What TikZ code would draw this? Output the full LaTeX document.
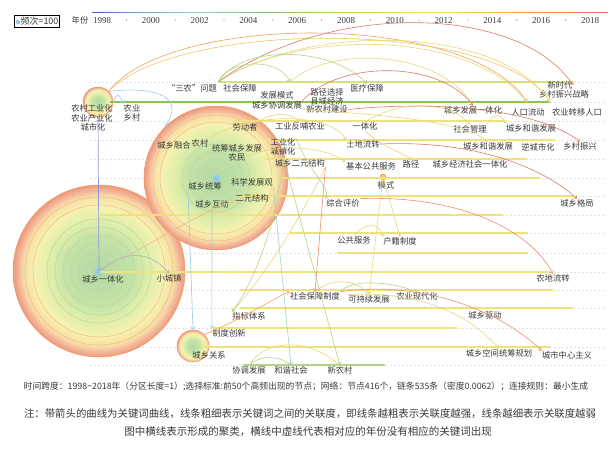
\documentclass[tikz,border=0pt]{standalone}
\usepackage{fontspec}
\setmainfont{Noto Sans CJK SC}
\newfontfamily\yearfont{Liberation Serif}
\usepackage{xcolor}
\usepackage{tikz}
\usetikzlibrary{arrows.meta,positioning}
\definecolor{inkgray}{HTML}{3A3A3A}
\definecolor{rowyellow}{HTML}{EFE27C}
\definecolor{rowolive}{HTML}{D6E07A}
\definecolor{rowgreen}{HTML}{8CC453}
\definecolor{dashgray}{HTML}{E2E2E2}
\definecolor{hubcore}{HTML}{8CCBEA}
\definecolor{hubgreen}{HTML}{B4DBA6}
\definecolor{hubmid}{HTML}{DCEDAA}
\definecolor{hubyellow}{HTML}{F6F2B0}
\definecolor{hubpale}{HTML}{F8DCA4}
\definecolor{hubcoral}{HTML}{EE9A74}
\definecolor{ringgreen}{HTML}{BCD698}
\definecolor{ringorange}{HTML}{F0B88A}
\definecolor{arcorange}{HTML}{EFA552}
\definecolor{arcamber}{HTML}{F2C46A}
\definecolor{arcred}{HTML}{DC7A66}
\definecolor{arccoral}{HTML}{E9916A}
\definecolor{arcyellow}{HTML}{EAD777}
\definecolor{arcgreen}{HTML}{B3D386}
\definecolor{arcblue}{HTML}{9CC8E2}
\definecolor{arcteal}{HTML}{A3D2C9}
\definecolor{arcslate}{HTML}{A7B4C4}
\definecolor{arcviolet}{HTML}{8E97DC}
\definecolor{arctan}{HTML}{E7C08E}
\definecolor{yr98}{HTML}{4A5FB8}
\definecolor{yr02}{HTML}{6FB2D8}
\definecolor{yr04}{HTML}{8FD0C8}
\definecolor{yr06}{HTML}{7FC46A}
\definecolor{yr10}{HTML}{B9D760}
\definecolor{yr12}{HTML}{EFE36A}
\definecolor{yr16}{HTML}{F2A65A}
\definecolor{yr18}{HTML}{E86A5A}
\pgfdeclareradialshading{hubring}{\pgfpointorigin}{color(0bp)=(hubcore); color(0.7bp)=(hubcore); color(1.6bp)=(hubgreen); color(10bp)=(hubgreen!60!hubmid); color(14bp)=(hubmid); color(19bp)=(hubyellow); color(22bp)=(hubpale); color(23.4bp)=(hubcoral!70!white); color(25bp)=(hubcoral); color(50bp)=(hubcoral)}
\pgfdeclarehorizontalshading{yearbar}{4bp}{color(0bp)=(yr98); color(25bp)=(yr98); color(30bp)=(yr02); color(35bp)=(yr04); color(42bp)=(yr06); color(50bp)=(yr10); color(58bp)=(yr12); color(66bp)=(yr16); color(75bp)=(yr18); color(100bp)=(yr18)}
\newcommand\kwfont{\fontsize{8.3}{9}\selectfont}
\tikzset{
  kw/.style={font=\kwfont, text=inkgray, inner sep=0.3pt},
  hub/.style={circle, shade, shading=hubring, draw=hubcoral, line width=0.5pt, inner sep=0pt},
  patterndot/.style={circle, fill=arcamber, draw=arcorange, line width=0.6pt, minimum size=6pt, inner sep=0pt},
  legendbox/.style={draw=black, line width=0.9pt, inner sep=1.4pt, font=\fontsize{9}{10}\selectfont, text=inkgray},
  yearlab/.style={font=\yearfont\fontsize{9}{10}\selectfont, text=inkgray, inner sep=0pt},
  yeardot/.style={circle, fill=inkgray!60, minimum size=1.4pt, inner sep=0pt},
  rowline/.style={draw=rowyellow, line width=1.3pt},
  rowdash/.style={draw=dashgray, dash pattern=on 2pt off 2pt, line width=0.5pt},
  tipped/.style={-{Straight Barb[length=2.6pt,width=4.2pt]}, line width=0.6pt},
  orangelink/.style={tipped, draw=arcorange},
  amberlink/.style={tipped, draw=arcamber},
  redlink/.style={tipped, draw=arcred},
  corallink/.style={tipped, draw=arccoral},
  yellowlink/.style={tipped, draw=arcyellow},
  greenlink/.style={tipped, draw=arcgreen},
  bluelink/.style={tipped, draw=arcblue},
  teallink/.style={tipped, draw=arcteal},
  slatelink/.style={tipped, draw=arcslate},
  violetline/.style={draw=arcviolet, line width=0.7pt},
  tanline/.style={draw=arctan, line width=0.7pt},
  footnote/.style={text=inkgray, inner sep=0pt}
}
\begin{document}
\begin{tikzpicture}[x=1pt, y=-1pt, font=\kwfont]
  \useasboundingbox (0,0) rectangle (612,451);
  \fill[white] (0,0) rectangle (612,451);

  % time axis
  \shade[shading=yearbar] (92,11.5) rectangle (608,14);
  \node[legendbox] (legend) at (37,21.5) {{\fontsize{5}{5}\selectfont\textcolor{hubcore}{●}}频次=100};
  \node[kw] (yearTitle) at (80,20.5) {年份};
  \foreach \yr [count=\i from 0] in {1998,2000,...,2018}
    \node[yearlab] (year\yr) at ({102+48.8*\i},20.5) {\yr};
  \foreach \i in {0,...,9}
    \node[yeardot] (tick\i) at ({126.4+48.8*\i},20) {};

  % faint dashed rows
  \foreach \ry in {82,102,121,140,159,178,196,215,233,253,272,290,308,328,347,365}
    \draw[rowdash] (90,\ry) -- (605,\ry);

  % hubs
  \node[hub, minimum size=172pt] (hubIntegration) at (99,271) {};
  \foreach \r in {12,20,28,36,44,52}
    \draw[ringgreen, line width=0.5pt] (hubIntegration.center) circle (\r pt);
  \foreach \r in {66,74}
    \draw[ringorange, line width=0.5pt] (hubIntegration.center) circle (\r pt);
  \node[hub, minimum size=144pt] (hubOverall) at (216,178) {};
  \foreach \r in {10,18,26,34}
    \draw[ringgreen, line width=0.5pt] (hubOverall.center) circle (\r pt);
  \foreach \r in {56,63}
    \draw[ringorange, line width=0.5pt] (hubOverall.center) circle (\r pt);
  \node[hub, minimum size=32pt] (hubRelation) at (193,346) {};
  \node[hub, minimum size=30pt] (hubIndustrial) at (98,102) {};
  \node[patterndot] (patternDot) at (383,177) {};

  % cluster rows
  \foreach \ry/\xa/\xb in {121/235/505, 140/265/555, 159/265/527, 178/280/540, 196/240/573, 215/100/503, 233/290/528, 253/337/528, 272/100/550, 290/240/553, 308/240/573, 328/213/457, 347/200/550}
    \draw[rowline] (\xa,\ry) -- (\xb,\ry);
  \draw[rowline, draw=rowolive] (218,82) -- (573,82);
  \draw[rowline, draw=rowgreen, line width=1.6pt] (110,102) -- (550,102);
  \draw[rowline, draw=arcgreen] (243,365) -- (385,365);

  % keywords
  \node[kw] (ruralIssue) at (192,88) {“三农”问题};
  \node[kw] (socialSec) at (240,88) {社会保障};
  \node[kw] (devMode) at (277,95) {发展模式};
  \node[kw] (coordDev) at (277,105) {城乡协调发展};
  \node[kw] (pathChoice) at (327,92.5) {路径选择};
  \node[kw] (countyEcon) at (327,101) {县域经济};
  \node[kw] (newRuralBuild) at (327,109.5) {新农村建设};
  \node[kw] (medicalSec) at (367,88) {医疗保障};
  \node[kw] (newEra) at (560,85) {新时代};
  \node[kw] (revivalPlan) at (564,94) {乡村振兴战略};
  \node[kw] (devIntegration) at (473,110) {城乡发展一体化};
  \node[kw] (popFlow) at (528,112) {人口流动};
  \node[kw] (migrantPop) at (577,112) {农业转移人口};
  \node[kw] (ruralInd) at (92,108) {农村工业化};
  \node[kw] (agriInd) at (92,118) {农业产业化};
  \node[kw] (cityization) at (93,127.5) {城市化};
  \node[kw] (agriculture) at (132,108) {农业};
  \node[kw] (village) at (132,117.5) {乡村};
  \node[kw] (labourer) at (245,127) {劳动者};
  \node[kw] (industryFeed) at (300,126) {工业反哺农业};
  \node[kw] (integration) at (365,126) {一体化};
  \node[kw] (socialMgmt) at (470,129) {社会管理};
  \node[kw] (harmonyDevA) at (531,128) {城乡和谐发展};
  \node[kw] (ruralUrbanMerge) at (174,145) {城乡融合};
  \node[kw] (countryside) at (200,143) {农村};
  \node[kw] (coordUrbanRural) at (237,148) {统筹城乡发展};
  \node[kw] (farmers) at (237,157) {农民};
  \node[kw] (industrialization) at (283,142) {工业化};
  \node[kw] (townization) at (283,151.5) {城镇化};
  \node[kw] (landTransfer) at (363,144) {土地流转};
  \node[kw] (harmonyDevB) at (488,146) {城乡和谐发展};
  \node[kw] (counterUrban) at (538,147) {逆城市化};
  \node[kw] (ruralRevival) at (580,146) {乡村振兴};
  \node[kw] (dualStructure) at (300,163) {城乡二元结构};
  \node[kw] (publicServiceBasic) at (371,166) {基本公共服务};
  \node[kw] (pathway) at (411,164) {路径};
  \node[kw] (econSocial) at (470,164) {城乡经济社会一体化};
  \node[kw] (pattern) at (386,185) {模式};
  \node[kw] (overallPlan) at (205,186) {城乡统筹};
  \node[kw] (sciDev) at (252,182) {科学发展观};
  \node[kw] (interaction) at (212,204) {城乡互动};
  \node[kw] (dualStruct) at (252,198) {二元结构};
  \node[kw] (evaluation) at (343,203) {综合评价};
  \node[kw] (spatialPattern) at (577,203) {城乡格局};
  \node[kw] (publicService) at (354,240) {公共服务};
  \node[kw] (hukou) at (400,241) {户籍制度};
  \node[kw] (integrationLabel) at (103,279) {城乡一体化};
  \node[kw] (smallTown) at (169,278) {小城镇};
  \node[kw] (farmlandTransfer) at (553,278) {农地流转};
  \node[kw] (socialSecSystem) at (315,296) {社会保障制度};
  \node[kw] (sustainable) at (369,299) {可持续发展};
  \node[kw] (agriModern) at (417,296) {农业现代化};
  \node[kw] (indicators) at (249,316) {指标体系};
  \node[kw] (drive) at (485,315) {城乡驱动};
  \node[kw] (instInnovation) at (229,333) {制度创新};
  \node[kw] (relation) at (209,355) {城乡关系};
  \node[kw] (spatialPlan) at (499,353) {城乡空间统筹规划};
  \node[kw] (cityCentrism) at (567,355) {城市中心主义};
  \node[kw] (coordination) at (249,370) {协调发展};
  \node[kw] (harmonySociety) at (291,370) {和谐社会};
  \node[kw] (newVillage) at (340,370) {新农村};

  % keyword links
  \coordinate (securityDot) at (218,82);
  \coordinate (modeDot) at (290,82);
  \coordinate (popDot) at (527,102);
  \coordinate (eraDot) at (550,102);
  \coordinate (dualDot) at (250,196);
  \draw[orangelink] (hubIndustrial.north east) .. controls (170,12) and (470,12) .. (popDot);
  \draw[amberlink] (hubIndustrial.north east) .. controls (180,18) and (500,20) .. (eraDot);
  \draw[yellowlink] (securityDot) .. controls (300,28) and (470,30) .. (popDot);
  \draw[yellowlink] (securityDot) .. controls (310,22) and (500,25) .. (eraDot);
  \draw[redlink] (securityDot) .. controls (330,0) and (520,5) .. (newEra.east);
  \draw[greenlink] (securityDot) .. controls (230,58) and (280,58) .. (modeDot);
  \draw[greenlink] (securityDot) .. controls (240,45) and (330,45) .. (medicalSec.north);
  \draw[yellowlink] (modeDot) .. controls (330,45) and (440,50) .. (devIntegration.north);
  \draw[redlink] (coordDev.north east) .. controls (340,60) and (440,60) .. (devIntegration.north);
  \draw[bluelink] (hubIndustrial.east) .. controls (116,92) and (120,94) .. (agriculture.north west);
  \draw[bluelink] (hubIndustrial.north east) .. controls (160,86) and (185,98) .. (hubOverall.north west);
  \draw[violetline] (hubIndustrial.south) -- (hubIntegration.center);
  \draw[bluelink] (overallPlan.south west) -- (hubRelation.north);
  \draw[teallink] (interaction.south) -- (instInnovation.north west);
  \draw[tanline] (hubIntegration.center) .. controls (160,240) and (210,205) .. (dualDot);
  \draw[slatelink] (hubIntegration.center) .. controls (125,250) and (150,250) .. (smallTown.north);
  \draw[orangelink] (hubRelation.north east) .. controls (240,320) and (280,295) .. (socialSecSystem.north west);
  \draw[yellowlink] (dualStructure.south east) .. controls (300,220) and (262,280) .. (indicators.north west);
  \draw[greenlink] (townization.south) .. controls (280,220) and (250,290) .. (indicators.north west);
  \draw[yellowlink] (publicService.north) .. controls (365,222) and (380,222) .. (hukou.north west);
  \draw[yellowlink] (patternDot) -- (hukou.north);
  \draw[yellowlink] (patternDot) -- (sustainable.north);
  \draw[greenlink] (industrialization.north east) .. controls (310,175) and (330,185) .. (evaluation.north west);
  \draw[corallink] (evaluation.north east) .. controls (460,195) and (530,230) .. (farmlandTransfer.north);
  \draw[redlink] (landTransfer.east) .. controls (470,140) and (540,165) .. (spatialPattern.north);
  \draw[corallink] (socialSecSystem.north east) .. controls (420,280) and (500,310) .. (cityCentrism.north west);
  \draw[yellowlink] (sustainable.north west) .. controls (420,290) and (470,315) .. (spatialPlan.north);
  \draw[yellowlink] (socialSecSystem.north) .. controls (330,278) and (355,278) .. (sustainable.north);
  \draw[greenlink] (socialSecSystem.north east) .. controls (350,280) and (385,280) .. (agriModern.north);
  \draw[yellowlink] (coordination.north) .. controls (265,338) and (310,338) .. (newVillage.north);
  \draw[greenlink] (coordination.north) .. controls (258,355) and (280,355) .. (harmonySociety.north);
  \draw[teallink] (sciDev.south east) -- (harmonySociety.north);
  \draw[greenlink] (townization.south) -- (newVillage.north);
  \draw[corallink] (dualStructure.south east) -- (socialSecSystem.north);
  \draw[yellowlink] (integration.north) .. controls (400,100) and (450,100) .. (socialMgmt.north);
  \draw[yellowlink] (socialMgmt.north east) .. controls (492,113) and (502,113) .. (harmonyDevA.north west);
  \draw[yellowlink] (coordDev.south east) .. controls (380,115) and (460,120) .. (harmonyDevB.north);
  \draw[redlink] (newRuralBuild.east) .. controls (440,100) and (540,110) .. (ruralRevival.north);
  \draw[yellowlink] (integration.south) .. controls (385,150) and (400,150) .. (pathway.north);
  \draw[yellowlink] (countryside.north east) .. controls (250,112) and (330,112) .. (landTransfer.north west);
  \draw[yellowlink] (farmers.east) .. controls (285,140) and (330,150) .. (publicServiceBasic.north west);
  \draw[yellowlink] (labourer.north east) .. controls (270,112) and (290,112) .. (industryFeed.north);

  % captions
  \node[footnote, font=\fontsize{8.8}{10}\selectfont] (stats) at (306,387) {时间跨度：1998{\textasciitilde}2018年（分区长度=1）;选择标准:前50个高频出现的节点；网络：节点416个，链条535条（密度0.0062）；连接规则：最小生成};
  \node[footnote, font=\fontsize{10.4}{12}\selectfont] (noteA) at (310,414) {注：带箭头的曲线为关键词曲线，线条粗细表示关键词之间的关联度，即线条越粗表示关联度越强，线条越细表示关联度越弱};
  \node[footnote, font=\fontsize{10.5}{12}\selectfont] (noteB) at (308,432) {图中横线表示形成的聚类，横线中虚线代表相对应的年份没有相应的关键词出现};
\end{tikzpicture}
\end{document}
